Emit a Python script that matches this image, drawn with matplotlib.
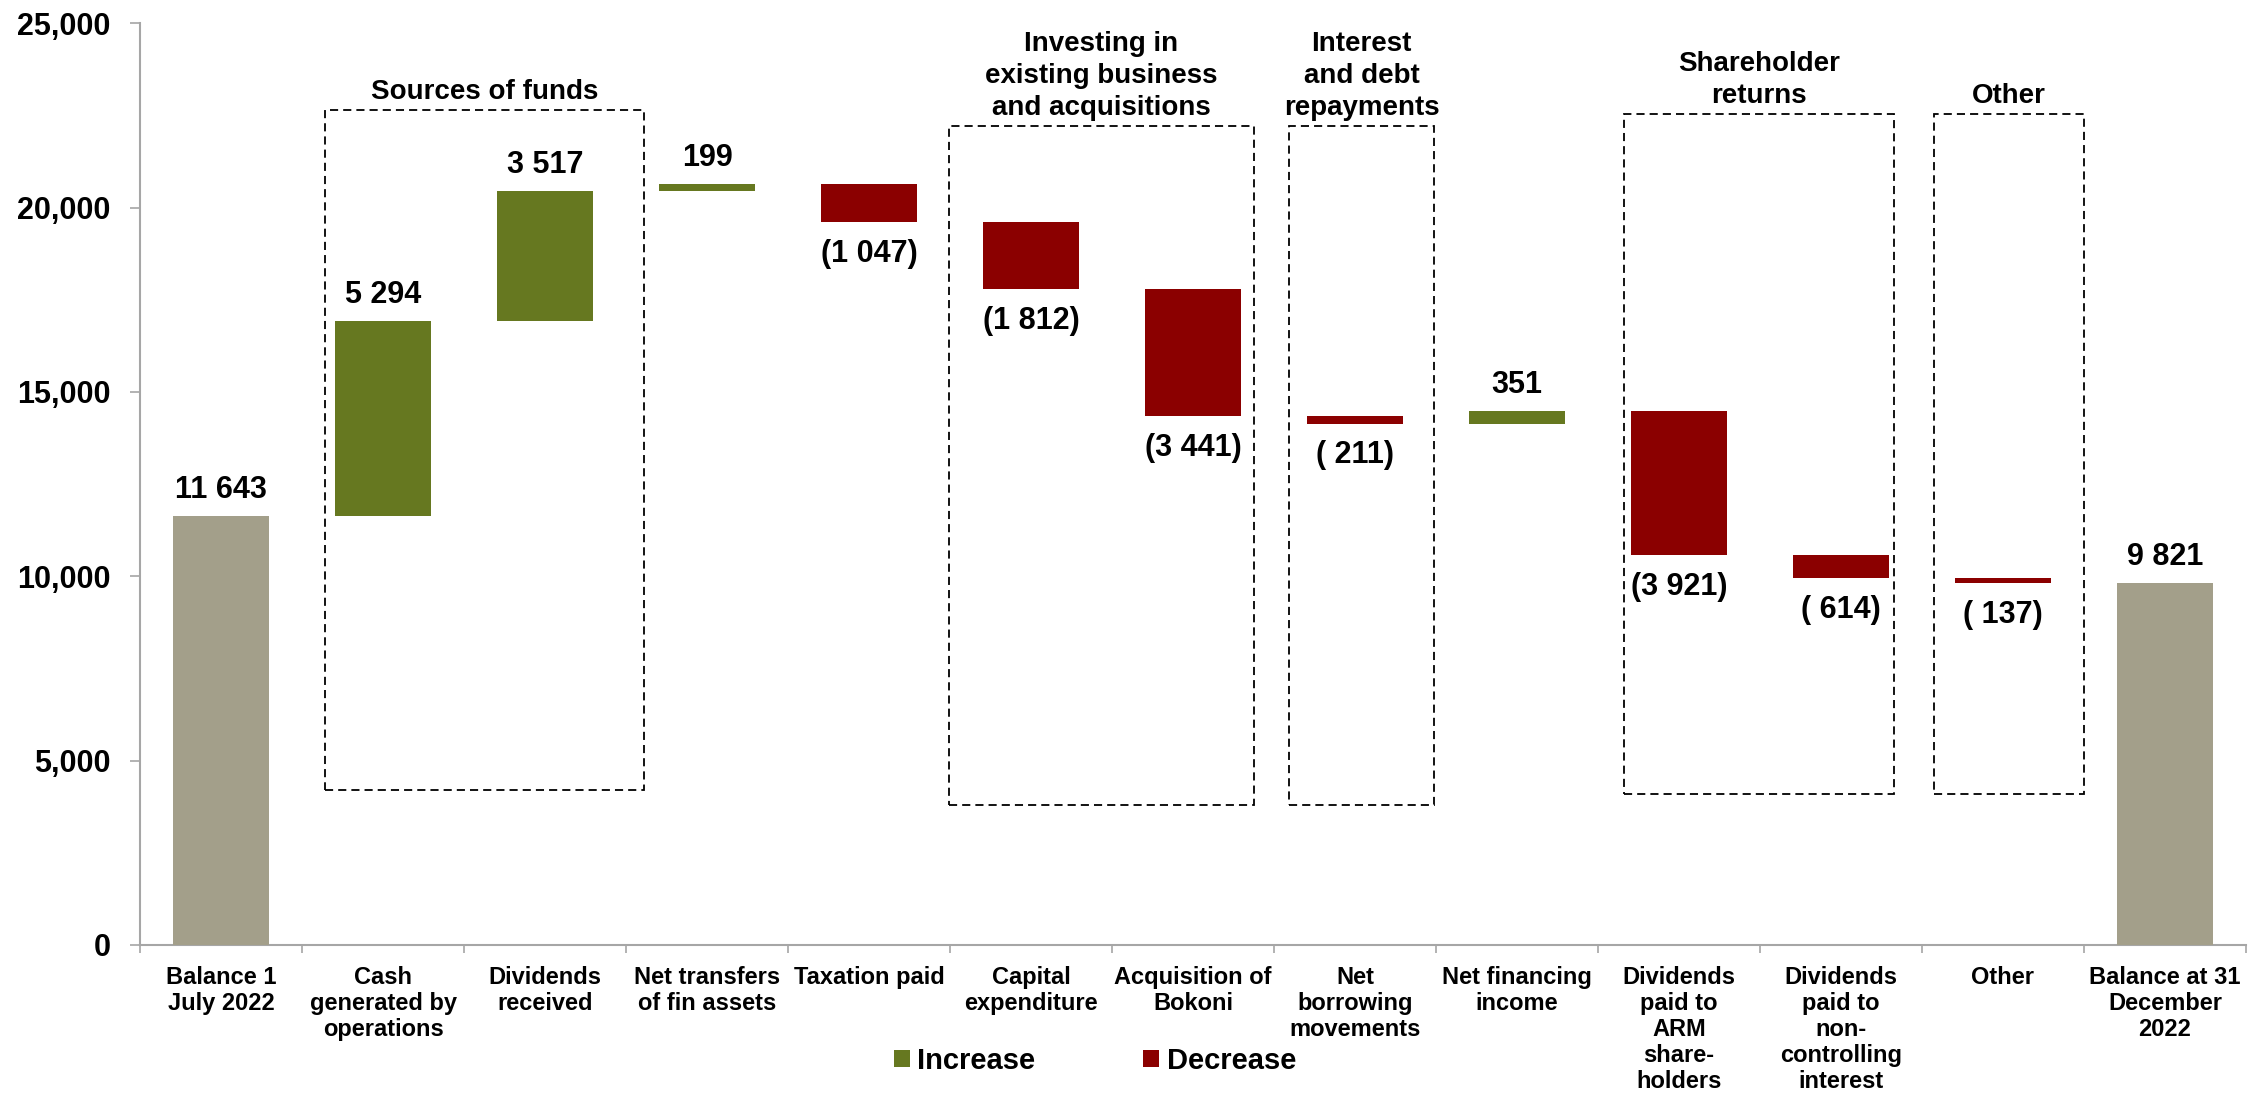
import matplotlib
matplotlib.use("Agg")
import matplotlib.pyplot as plt
from matplotlib.patches import Rectangle, Patch
import numpy as np

plt.rcParams['font.family'] = ['Liberation Sans', 'DejaVu Sans']
plt.rcParams['font.weight'] = 'bold'

# ---------------- data ----------------
categories = [
    "Balance 1\nJuly 2022",
    "Cash\ngenerated by\noperations",
    "Dividends\nreceived",
    "Net transfers\nof fin assets",
    "Taxation paid",
    "Capital\nexpenditure",
    "Acquisition of\nBokoni",
    "Net\nborrowing\nmovements",
    "Net financing\nincome",
    "Dividends\npaid to\nARM\nshare-\nholders",
    "Dividends\npaid to\nnon-\ncontrolling\ninterest",
    "Other",
    "Balance at 31\nDecember\n2022",
]
values = [11643, 5294, 3517, 199, -1047, -1812, -3441, -211, 351, -3921, -614, -137, 9821]
kinds = ["total", "delta", "delta", "delta", "delta", "delta", "delta", "delta",
         "delta", "delta", "delta", "delta", "total"]
value_labels = ["11 643", "5 294", "3 517", "199", "(1 047)", "(1 812)", "(3 441)",
                "( 211)", "351", "(3 921)", "( 614)", "( 137)", "9 821"]
yticks = [0, 5000, 10000, 15000, 20000, 25000]

group_titles = ["Sources of funds", "Investing in\nexisting business\nand acquisitions",
                "Interest\nand debt\nrepayments", "Shareholder\nreturns", "Other"]
# box extents (annotation layout): x0, x1, y0, y1 in data coords
group_boxes = [(0.642, 2.611, 4205, 22654),
               (4.494, 6.377, 3800, 22220),
               (6.593, 7.490, 3800, 22220),
               (8.660, 10.327, 4097, 22545),
               (10.574, 11.500, 4097, 22545)]

legend_labels = ["Increase", "Decrease"]

# ---------------- style ----------------
GREEN = "#667820"
RED = "#8b0000"
GREY = "#a39f8a"
AXIS = "#a6a6a6"

fig = plt.figure(figsize=(22.59, 10.95), dpi=100)
ax = fig.add_axes([140/2259, 1-945/1095, 2106/2259, (945-23.3)/1095])

x = np.arange(len(values))
bottoms, heights, colors = [], [], []
running = 0
for v, k in zip(values, kinds):
    if k == "total":
        bottoms.append(0); heights.append(v); colors.append(GREY)
        running = v
    else:
        if v >= 0:
            bottoms.append(running); heights.append(v); colors.append(GREEN)
        else:
            bottoms.append(running + v); heights.append(-v); colors.append(RED)
        running += v

ax.bar(x, heights, bottom=bottoms, width=0.59, color=colors, linewidth=0, zorder=3)

for xi, b, h, v, k, lab in zip(x, bottoms, heights, values, kinds, value_labels):
    if k == "total" or v >= 0:
        ax.annotate(lab, (xi, b + h), xytext=(0, 13), textcoords="offset points",
                    ha="center", va="baseline", fontsize=22, fontweight="bold")
    else:
        ax.annotate(lab, (xi, b), xytext=(0, -12), textcoords="offset points",
                    ha="center", va="top", fontsize=22, fontweight="bold")

for title, (x0, x1, y0, y1) in zip(group_titles, group_boxes):
    ax.add_patch(Rectangle((x0, y0), x1 - x0, y1 - y0, fill=False, edgecolor="black",
                           linewidth=1.3, linestyle=(0, (4.5, 2.8)), zorder=2))
    ax.annotate(title, ((x0 + x1) / 2, y1), xytext=(0, 7.5), textcoords="offset points",
                ha="center", va="baseline", fontsize=20, fontweight="bold",
                linespacing=1.32, multialignment="center")

ax.set_xlim(-0.5, len(values) - 0.5)
ax.set_ylim(0, 25000)
ax.set_yticks(yticks)
ax.set_yticklabels([f"{t:,}" for t in yticks], fontsize=22, fontweight="bold")
ax.tick_params(axis="y", length=7, width=1.2, color=AXIS, pad=14)

ax.set_xticks(x)
ax.set_xticklabels(categories, fontsize=17, fontweight="bold", linespacing=1.17, va="top")
ax.tick_params(axis="x", which="major", length=0, pad=15)
ax.set_xticks(np.arange(-0.5, len(values) + 0.5, 1), minor=True)
ax.tick_params(axis="x", which="minor", length=6, width=1.2, color=AXIS)

for s in ["top", "right"]:
    ax.spines[s].set_visible(False)
for s in ["left", "bottom"]:
    ax.spines[s].set_color(AXIS)
    ax.spines[s].set_linewidth(1.5)

handles = [Patch(facecolor=GREEN, edgecolor="none"), Patch(facecolor=RED, edgecolor="none")]
fig.legend(handles, legend_labels, loc="center", bbox_to_anchor=(1095/2259, 1-1061/1095),
           ncol=2, frameon=False, handlelength=0.55, handleheight=0.55, handletextpad=0.25,
           columnspacing=3.7, prop={"family": "Liberation Sans", "weight": "bold", "size": 21})

fig.savefig("out.png", dpi=100)
